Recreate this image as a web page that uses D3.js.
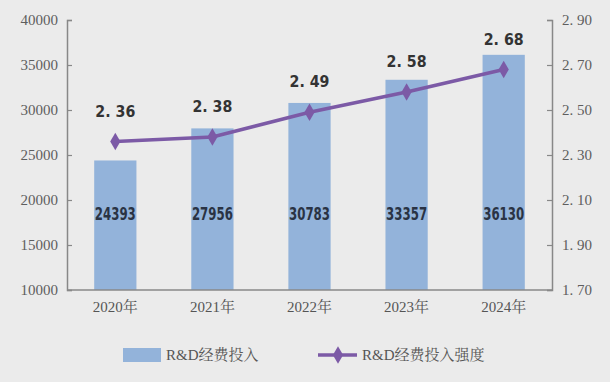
<!DOCTYPE html>
<html><head><meta charset="utf-8">
<script src="https://cdn.jsdelivr.net/npm/d3@7"></script>
<style>body{margin:0;background:#ebebeb;}svg{display:block;}</style>
</head><body>
<svg id="c" width="610" height="382"></svg>
<script>
const years = ["2020年","2021年","2022年","2023年","2024年"];
const rdInvest = [24393, 27956, 30783, 33357, 36130];
const rdIntensity = [2.36, 2.38, 2.49, 2.58, 2.68];
const leftTicks = [10000,15000,20000,25000,30000,35000,40000];
const rightTicks = [1.70,1.90,2.10,2.30,2.50,2.70,2.90];
const legendLabels = ["R&D经费投入","R&D经费投入强度"];

const svg = d3.select("#c");
svg.append("rect").attr("width",610).attr("height",382).attr("fill","#ebebeb");
const L=67, R=552, T=20, B=290;
const x = d3.scaleBand().domain(years).range([L,R]).paddingInner(0.565).paddingOuter(0.28);
const yL = d3.scaleLinear().domain([10000,40000]).range([B,T]);
const yR = d3.scaleLinear().domain([1.70,2.90]).range([B,T]);
const axisColor="#888", tickFont="'Liberation Serif', 'Noto Serif CJK SC', serif";

// bars
svg.selectAll(".bar").data(rdInvest).join("rect")
  .attr("x",(d,i)=>x(years[i])).attr("width",x.bandwidth())
  .attr("y",d=>yL(d)).attr("height",d=>B-yL(d)).attr("fill","#93b3da");

// axes
const gl = svg.append("g").attr("transform",`translate(${L},0)`)
  .call(d3.axisRight(yL).tickValues(leftTicks).tickSize(5).tickFormat(d=>d));
gl.selectAll("text").remove();
svg.selectAll(".lt").data(leftTicks).join("text").attr("x",L-9).attr("y",d=>yL(d)).attr("dy","0.35em")
  .attr("text-anchor","end").attr("font-family",tickFont).attr("font-size",15).attr("fill","#5e5e5e").text(d=>d);
const gr = svg.append("g").attr("transform",`translate(${R},0)`)
  .call(d3.axisLeft(yR).tickValues(rightTicks).tickSize(5));
gr.selectAll("text").remove();
svg.selectAll(".rt").data(rightTicks).join("text").attr("x",R+10).attr("y",d=>yR(d)).attr("dy","0.35em")
  .attr("text-anchor","start").attr("font-family",tickFont).attr("font-size",15).attr("fill","#5e5e5e").text(d=>d.toFixed(2).replace(".",". "));
[gl,gr].forEach(g=>{g.select(".domain").attr("stroke",axisColor).attr("stroke-width",1.5);g.selectAll("line").attr("stroke",axisColor).attr("stroke-width",1.2);});
// bottom
svg.append("line").attr("x1",L).attr("x2",R).attr("y1",B).attr("y2",B).attr("stroke",axisColor).attr("stroke-width",1.5);
svg.selectAll(".xt").data(years).join("text").attr("x",d=>x(d)+x.bandwidth()/2).attr("y",312)
  .attr("text-anchor","middle").attr("font-family",tickFont).attr("font-size",15).attr("fill","#555").text(d=>d);

// line
const cx = (i)=>x(years[i])+x.bandwidth()/2;
svg.append("path").datum(rdIntensity).attr("fill","none").attr("stroke","#7c5aa6").attr("stroke-width",3.5)
  .attr("d",d3.line().x((d,i)=>cx(i)).y(d=>yR(d)));
const diamond = d3.symbol().type(d3.symbolDiamond).size(90);
svg.selectAll(".pt").data(rdIntensity).join("path").attr("d",diamond)
  .attr("transform",(d,i)=>`translate(${cx(i)},${yR(d)})`).attr("fill","#7c5aa6");

// labels
svg.selectAll(".il").data(rdIntensity).join("text").attr("x",(d,i)=>cx(i)).attr("y",d=>yR(d)-25)
  .attr("text-anchor","middle").attr("font-family","'DejaVu Sans', sans-serif").attr("font-weight","bold").attr("font-size",16)
  .attr("fill","#333").attr("textLength",40).attr("lengthAdjust","spacingAndGlyphs").text(d=>d.toFixed(2).replace(".",". "));
svg.selectAll(".bl").data(rdInvest).join("text").attr("x",(d,i)=>cx(i)).attr("y",214).attr("dy","0.35em")
  .attr("text-anchor","middle").attr("font-family","'DejaVu Sans', sans-serif").attr("font-weight","bold").attr("font-size",17)
  .attr("fill","#2a3344").attr("textLength",41).attr("lengthAdjust","spacingAndGlyphs").text(d=>d);

// legend
svg.append("rect").attr("x",123).attr("y",348).attr("width",38).attr("height",14).attr("fill","#93b3da");
svg.append("text").attr("x",166).attr("y",355).attr("dy","0.35em").attr("font-family",tickFont).attr("font-size",15).attr("fill","#555").text(legendLabels[0]);
svg.append("line").attr("x1",318).attr("x2",357).attr("y1",355).attr("y2",355).attr("stroke","#7c5aa6").attr("stroke-width",3.5);
svg.append("path").attr("d",diamond).attr("transform","translate(338,355)").attr("fill","#7c5aa6");
svg.append("text").attr("x",362).attr("y",355).attr("dy","0.35em").attr("font-family",tickFont).attr("font-size",15).attr("fill","#555").text(legendLabels[1]);
</script>
</body></html>
